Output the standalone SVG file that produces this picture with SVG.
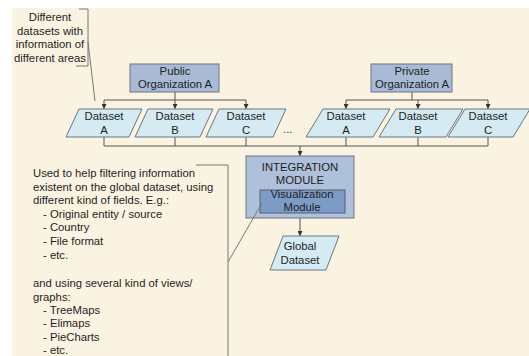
<svg xmlns="http://www.w3.org/2000/svg" width="529" height="356" viewBox="0 0 529 356">
  <defs>
    <marker id="arrow" viewBox="0 0 8 8" refX="8" refY="4" markerWidth="5" markerHeight="5" orient="auto" markerUnits="userSpaceOnUse">
      <path d="M0,0 L8,4 L0,8 Z" fill="#333"/>
    </marker>
    <style>
      text { font-family: "Liberation Sans", Arial, sans-serif; font-size: 11.3px; fill: #1e1e1e; }
      .c { text-anchor: middle; }
      .org { fill: #a9bad6; stroke: #6e7482; stroke-width: 1; }
      .ds { fill: #d4ebf3; stroke: #6c7480; stroke-width: 1; }
      .mod { fill: #afc0da; stroke: #6e7482; stroke-width: 1; }
      .vis { fill: #7d9bc7; stroke: #59606c; stroke-width: 1; }
      .conn { fill: none; stroke: #555; stroke-width: 1; }
      .note { fill: none; stroke: #777; stroke-width: 1; }
    </style>
  </defs>

  <!-- page -->
  <rect x="0" y="0" width="529" height="356" fill="#ffffff"/>
  <rect x="12" y="8" width="517" height="348" fill="#fbf3e2"/>

  <!-- connectors -->
  <g id="connectors">
    <!-- public organization to its datasets -->
    <path class="conn" d="M175,92 V100 M104,100 H246"/>
    <line class="conn" x1="104" y1="100" x2="104" y2="109" marker-end="url(#arrow)"/>
    <line class="conn" x1="175" y1="100" x2="175" y2="109" marker-end="url(#arrow)"/>
    <line class="conn" x1="246" y1="100" x2="246" y2="109" marker-end="url(#arrow)"/>
    <!-- private organization to its datasets -->
    <path class="conn" d="M412,92 V100 M346,100 H488"/>
    <line class="conn" x1="346" y1="100" x2="346" y2="109" marker-end="url(#arrow)"/>
    <line class="conn" x1="418" y1="100" x2="418" y2="109" marker-end="url(#arrow)"/>
    <line class="conn" x1="488" y1="100" x2="488" y2="109" marker-end="url(#arrow)"/>
    <!-- datasets merged into the integration module -->
    <path class="conn" d="M104,137 V146 M175,137 V146 M246,137 V146 M346,137 V146 M418,137 V146 M488,137 V146 M104,146 H488"/>
    <line class="conn" x1="300" y1="146" x2="300" y2="156" marker-end="url(#arrow)"/>
    <!-- integration module to global dataset -->
    <line class="conn" x1="300" y1="218" x2="300" y2="236" marker-end="url(#arrow)"/>
  </g>

  <!-- annotation: datasets -->
  <g id="note-datasets">
    <path class="note" d="M79,9 H88 V66 H76"/>
    <line class="note" x1="88" y1="42" x2="95" y2="101"/>
    <text class="c" x="50" y="21">Different</text>
    <text class="c" x="50" y="35">datasets with</text>
    <text class="c" x="50" y="48">information of</text>
    <text class="c" x="50" y="62">different areas</text>
  </g>

  <g id="public-org">
    <rect class="org" x="130" y="64" width="89" height="28"/>
    <text class="c" x="175" y="75">Public</text>
    <text class="c" x="175" y="88">Organization A</text>
  </g>

  <g id="private-org">
    <rect class="org" x="371" y="64" width="81" height="28"/>
    <text class="c" x="412" y="75">Private</text>
    <text class="c" x="412" y="88">Organization A</text>
  </g>

  <g id="public-dataset-a">
    <polygon class="ds" points="66,137 79,109 142,109 129,137"/>
    <text class="c" x="104" y="120">Dataset</text>
    <text class="c" x="104" y="134">A</text>
  </g>
  <g id="public-dataset-b">
    <polygon class="ds" points="135,137 148,109 213,109 200,137"/>
    <text class="c" x="175" y="120">Dataset</text>
    <text class="c" x="175" y="134">B</text>
  </g>
  <g id="public-dataset-c">
    <polygon class="ds" points="206,137 219,109 286,109 273,137"/>
    <text class="c" x="246" y="120">Dataset</text>
    <text class="c" x="246" y="134">C</text>
  </g>

  <text x="283" y="133">...</text>

  <g id="private-dataset-a">
    <polygon class="ds" points="306,137 323,109 390,109 373,137"/>
    <text class="c" x="346" y="120">Dataset</text>
    <text class="c" x="346" y="134">A</text>
  </g>
  <g id="private-dataset-b">
    <polygon class="ds" points="379,137 396,109 463,109 446,137"/>
    <text class="c" x="418" y="120">Dataset</text>
    <text class="c" x="418" y="134">B</text>
  </g>
  <g id="private-dataset-c">
    <polygon class="ds" points="448,137 465,109 530,109 513,137"/>
    <text class="c" x="488" y="120">Dataset</text>
    <text class="c" x="488" y="134">C</text>
  </g>

  <g id="integration-module">
    <rect class="mod" x="246" y="156" width="108" height="62"/>
    <text class="c" x="300" y="171">INTEGRATION</text>
    <text class="c" x="300" y="184">MODULE</text>
  </g>

  <g id="visualization-module">
    <rect class="vis" x="260" y="190" width="85" height="23"/>
    <text class="c" x="302" y="198">Visualization</text>
    <text class="c" x="302" y="211">Module</text>
  </g>

  <g id="global-dataset">
    <polygon class="ds" points="270,270 283,236 339,236 326,270"/>
    <text class="c" x="300" y="250">Global</text>
    <text class="c" x="300" y="264">Dataset</text>
  </g>

  <!-- annotation: visualization module -->
  <g id="note-visualization">
    <path class="note" d="M196,165 H228 V356"/>
    <line class="note" x1="228" y1="262" x2="262" y2="203"/>
    <text x="33" y="177">Used to help filtering information</text>
    <text x="33" y="190.5">existent on the global dataset, using</text>
    <text x="33" y="204">different kind of fields. E.g.:</text>
    <text x="43" y="217.5">- Original entity / source</text>
    <text x="43" y="231">- Country</text>
    <text x="43" y="244.5">- File format</text>
    <text x="43" y="258.5">- etc.</text>
    <text x="33" y="287">and using several kind of views/</text>
    <text x="33" y="300.5">graphs:</text>
    <text x="43" y="313.5">- TreeMaps</text>
    <text x="43" y="327">- Elimaps</text>
    <text x="43" y="340.5">- PieCharts</text>
    <text x="43" y="354">- etc.</text>
  </g>
</svg>
